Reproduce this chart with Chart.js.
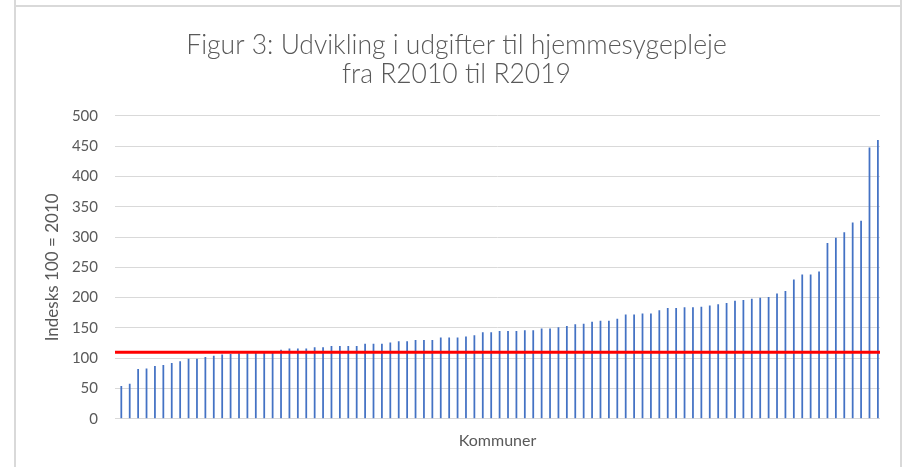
<!DOCTYPE html>
<html>
<head>
<meta charset="utf-8">
<script src="https://cdn.jsdelivr.net/npm/chart.js@4/dist/chart.umd.min.js"></script>
<style>
  html, body { margin: 0; padding: 0; background: #ffffff; }
  #wrap { position: relative; width: 905px; height: 467px; overflow: hidden; }
  canvas { position: absolute; left: 0; top: 0; }
  .frameV { position: absolute; top: 0; width: 2px; height: 467px; background: #d9d9d9; }
  .frameH { position: absolute; top: 5px; left: 16px; width: 884px; height: 2px; background: #d9d9d9; }
</style>
</head>
<body>
<div id="wrap">
  <canvas id="c" width="905" height="467"></canvas>
  <div class="frameV" style="left:14px"></div>
  <div class="frameV" style="left:900px"></div>
  <div class="frameH"></div>
</div>
<script>
// ---- Data ----
const titleLines = ['Figur 3: Udvikling i udgifter til hjemmesygepleje', 'fra R2010 til R2019'];
const yAxisTitle = 'Indesks 100 = 2010';
const xAxisTitle = 'Kommuner';
const yTicks = [0, 50, 100, 150, 200, 250, 300, 350, 400, 450, 500];

// Index values per municipality (sorted ascending), 100 = 2010
const indexValues = [
  54, 58, 82, 83, 87, 89, 92, 95, 99, 99,
  102, 104, 106, 107, 108, 108, 109, 110, 111, 114,
  116, 116, 116, 118, 118, 120, 120, 120, 120, 124,
  124, 124, 126, 128, 128, 130, 130, 130, 134, 134,
  134, 136, 138, 143, 143, 145, 145, 145, 146, 146,
  149, 149, 151, 153, 156, 157, 160, 162, 162, 165,
  172, 172, 174, 174, 179, 183, 183, 184, 184, 185,
  187, 189, 191, 195, 196, 198, 200, 201, 207, 211,
  230, 238, 238, 243, 290, 299, 308, 324, 327, 448,
  460
];
// Reference level (red line)
const referenceLevel = 110;

// Category labels (municipality names are not shown in the reference)
const categories = indexValues.map((_, i) => 'Kommune ' + (i + 1));

const grey = '#595959';
const fontFamily = "Lato, 'Open Sans', sans-serif";

new Chart(document.getElementById('c'), {
  data: {
    labels: categories,
    datasets: [
      {
        type: 'line',
        label: 'Reference',
        xAxisID: 'xRef',
        data: [{ x: 0, y: referenceLevel }, { x: 1, y: referenceLevel }],
        borderColor: '#ff0000',
        borderWidth: 3,
        pointRadius: 0,
        fill: false,
        order: 0
      },
      {
        type: 'bar',
        label: 'Indeks',
        data: indexValues,
        backgroundColor: '#4472c4',
        borderWidth: 0,
        barPercentage: 0.42,
        categoryPercentage: 1,
        order: 1
      }
    ]
  },
  options: {
    responsive: false,
    animation: false,
    layout: { padding: { left: 8, right: 0, top: 22, bottom: 10 } },
    plugins: {
      legend: { display: false },
      tooltip: { enabled: false },
      title: {
        display: true,
        text: titleLines,
        color: grey,
        font: { family: fontFamily, size: 26.5, weight: '300', lineHeight: 1.13 },
        padding: { top: 8, bottom: 26 }
      }
    },
    scales: {
      x: {
        type: 'category',
        grid: { display: false, drawTicks: false },
        border: { display: false },
        ticks: { display: false },
        title: {
          display: true,
          text: xAxisTitle,
          color: grey,
          font: { family: fontFamily, size: 16 },
          padding: { top: 12, bottom: 7 }
        }
      },
      xRef: {
        type: 'linear',
        min: 0,
        max: 1,
        display: false
      },
      y: {
        type: 'linear',
        min: yTicks[0],
        max: yTicks[yTicks.length - 1],
        afterBuildTicks: (scale) => { scale.ticks = yTicks.map(v => ({ value: v })); },
        afterFit: (scale) => { scale.width = 107; },
        grid: { color: '#d9d9d9', lineWidth: 1, drawTicks: false },
        border: { display: false },
        ticks: {
          color: grey,
          padding: 17,
          font: { family: fontFamily, size: 15 }
        },
        title: {
          display: true,
          text: yAxisTitle,
          color: grey,
          font: { family: fontFamily, size: 17 },
          padding: { top: 34, bottom: 0 }
        }
      },
      yRightSpace: {
        type: 'linear',
        position: 'right',
        display: true,
        grid: { display: false, drawTicks: false },
        border: { display: false },
        ticks: { display: false },
        afterFit: (scale) => { scale.width = 25; }
      }
    }
  }
});
</script>
</body>
</html>
